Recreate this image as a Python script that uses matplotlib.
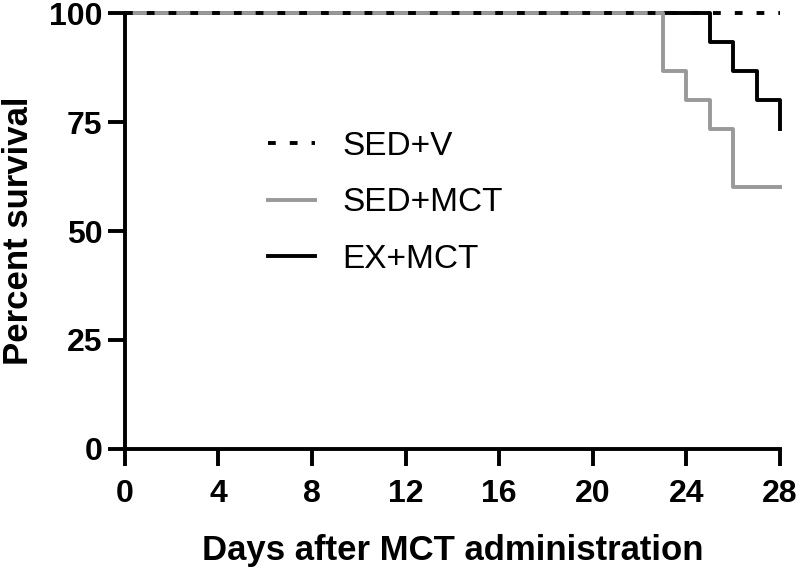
import matplotlib
matplotlib.use("Agg")
import matplotlib.pyplot as plt

FONT = 'Liberation Sans'

# Data (Kaplan-Meier step curves)
sedv_days = [0, 28]
sedv_surv = [100, 100]
sedmct_days = [0, 23, 24, 25, 26, 28]
sedmct_surv = [100, 86.7, 80.0, 73.3, 60.0, 60.0]
exmct_days = [0, 25, 26, 27, 28, 28]
exmct_surv = [100, 93.3, 86.7, 80.0, 73.3, 73.3]
xticks = [0, 4, 8, 12, 16, 20, 24, 28]
yticks = [0, 25, 50, 75, 100]

fig = plt.figure(figsize=(8, 5.69), dpi=100)
ax = fig.add_axes([0.156, 0.211, 0.819, 0.766])

lw = 2.8
l3, = ax.step(exmct_days, exmct_surv, where='post', color='black', lw=lw, clip_on=False, label='EX+MCT')
l2, = ax.step(sedmct_days, sedmct_surv, where='post', color='#999999', lw=lw, clip_on=False, label='SED+MCT')
l1, = ax.plot(sedv_days, sedv_surv, color='black', lw=lw, ls=(0, (2.0, 3.6)), clip_on=False, label='SED+V')

ax.set_xlim(0, 28)
ax.set_ylim(0, 100)
ax.set_xticks(xticks)
ax.set_yticks(yticks)
for s in ['top', 'right']:
    ax.spines[s].set_visible(False)
for s in ['left', 'bottom']:
    ax.spines[s].set_linewidth(2.8)
ax.tick_params(axis='both', width=2.8, length=12, direction='out')
ax.tick_params(axis='x', pad=10)
ax.tick_params(axis='y', pad=4)
for lab in ax.get_xticklabels() + ax.get_yticklabels():
    lab.set_fontfamily(FONT)
    lab.set_fontweight('bold')
    lab.set_fontsize(23)

ax.set_xlabel('Days after MCT administration', fontfamily=FONT, fontweight='bold', fontsize=25, labelpad=18)
ax.set_ylabel('Percent survival', fontfamily=FONT, fontweight='bold', fontsize=25, labelpad=10)

leg = ax.legend(handles=[l1, l2, l3], loc='upper left', bbox_to_anchor=(0.218, 0.73),
                frameon=False, prop={'family': FONT, 'size': 24},
                handlelength=1.41, handletextpad=0.84, labelspacing=0.77,
                borderpad=0, borderaxespad=0)

fig.savefig('out.png', dpi=100)
